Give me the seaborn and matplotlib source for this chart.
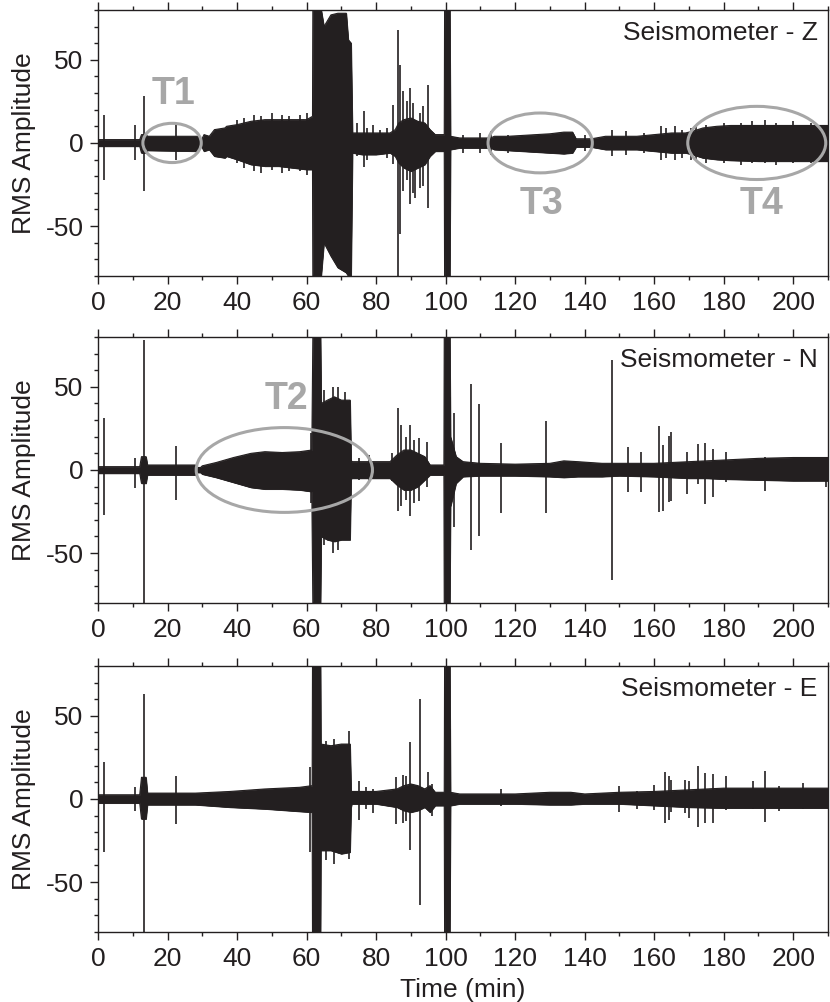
import matplotlib
matplotlib.use("Agg")
import matplotlib.pyplot as plt
from matplotlib.patches import Ellipse
from matplotlib.ticker import MultipleLocator
import seaborn as sns
import pandas as pd

# --- envelope of each trace (min) ---
t_z = [0, 12, 12.5, 13.8, 14.2, 28.5, 29.8, 30.5, 32, 33.5, 36.5, 37, 40, 44, 48, 52, 56, 60, 61.7, 61.8,
       64.2, 65, 67, 69, 71.4, 72, 72.8, 73.2, 76, 80, 84, 85.5, 86.5, 88, 90, 92, 94, 95.5, 97, 99.6, 99.7,
       101.2, 101.4, 104, 108, 113, 114, 118, 122, 126, 130, 134, 136.5, 137.5, 142, 146, 150, 155, 160, 165, 169,
       171, 174, 178, 182, 190, 198, 206, 210]
up_z = [2, 2, 5, 5, 4, 4, 2, 5, 4, 8, 9, 10, 11, 13, 14, 14, 14, 14, 16, 80,
        80, 70, 77, 78, 78, 62, 60, 6, 6, 6, 6, 8, 12, 14, 15, 13, 12, 8, 5, 5, 80,
        80, 4, 3, 3, 3, 4, 4, 4.5, 5, 5.5, 6.5, 6.5, 2.5, 2.5, 4, 4, 4, 5, 6, 6,
        7, 9, 10, 10.5, 10.5, 10.5, 10.5, 10.5]
lo_z = [-2, -2, -6, -6, -4.5, -5, -2, -5, -4, -8, -9, -8, -10, -13, -14, -14, -15, -16, -16, -80,
        -80, -60, -68, -75, -78, -80, -80, -6, -7, -7, -6, -8, -12, -15, -17, -15, -13, -8, -5, -5, -80,
        -80, -4, -3, -3, -3, -4, -4.5, -5, -5.5, -6, -6.5, -6, -2.5, -2.5, -4, -4, -4, -5, -6, -6,
        -7, -9, -10, -10.5, -11, -11, -11, -11]

t_n = [0, 12, 12.5, 13.8, 14.2, 28, 28.5, 29.5, 30, 34, 39, 44, 48, 53, 58, 61.5, 61.8, 64.0, 64.2, 66,
       68, 70, 72.5, 72.8, 73, 78, 84, 86, 88, 90, 92, 94, 95.5, 99.5, 99.6, 101.2, 101.4, 103, 105, 110,
       120, 130, 134, 138, 145, 150, 160, 170, 175, 180, 190, 200, 210]
up_n = [2, 2, 8, 8, 3, 3, 1.5, 1.5, 2.5, 4.5, 7.5, 10, 11, 10.5, 11, 12, 80, 80, 40, 42,
        44, 42, 42, 6, 5, 5, 5, 9, 12, 12, 10, 8, 3, 3, 80, 80, 20, 8, 5, 4,
        3.5, 4, 5.5, 5, 4, 4, 4, 5, 5.5, 6, 7, 7.5, 7.5]
lo_n = [-2, -2, -8, -8, -3, -3, -1.5, -1.5, -2.5, -4.5, -7.5, -10.5, -11.5, -11.5, -12, -13, -80, -80, -40, -42,
        -43, -42, -42, -5.5, -5, -5, -5, -9, -12, -12, -10, -6, -3, -3, -80, -80, -22, -8, -4, -3.5,
        -3.5, -4, -4.5, -4, -4, -3.5, -4, -5, -5, -5.5, -6, -6.5, -6.5]

t_e = [0, 12, 12.5, 13.8, 14.2, 28, 38, 48, 58, 61.6, 61.7, 64.0, 64.1, 67, 70, 72.5, 72.8, 73, 80, 86,
       88, 90, 92, 94, 95.5, 97, 99.6, 99.7, 101.2, 101.4, 104, 120, 130, 136, 140, 150, 160, 170, 180, 190,
       200, 210]
up_e = [2.5, 2.5, 13, 13, 3.5, 3.5, 4.5, 6, 7, 8, 80, 80, 33, 32, 33, 33, 5, 4.5, 4.5, 6,
        8, 9, 8, 6, 8, 4, 4, 80, 80, 4, 3, 3, 4, 4, 3, 4, 4.5, 5.5, 6.5, 6.5,
        6.5, 6.5]
lo_e = [-2.5, -2.5, -12, -12, -3.5, -3.5, -5, -6, -7.5, -8, -80, -80, -31, -31, -33, -32, -5, -3, -3, -5,
        -7, -8, -7, -5, -8, -4, -4, -80, -80, -4, -3, -3, -3.5, -3.5, -3, -3, -4, -5, -5.5, -5.5,
        -5.5, -5.5]

# --- isolated spikes: time, max, min ---
spk_t_z = [1.7, 10.5, 13.1, 22.5, 40, 42, 45, 47, 50, 53, 55, 58, 60,
           74.5, 76.4, 77.5, 79.1, 81, 83, 84.8, 86.3, 86.9, 87.7, 88.8, 89.8, 90.5, 91.1, 92.5, 93.5, 94.9,
           101.3, 105, 110, 113, 118, 140, 148, 152, 157, 162, 163.5, 166, 168, 170.5,
           172, 175, 180, 185, 188, 192, 195, 200, 205]
spk_hi_z = [17, 11, 28, 12, 14, 15, 17, 16, 18, 17, 16, 17, 18,
            12, 19, 9, 10.7, 8, 9, 23, 68, 47, 31, 25, 33, 24, 14, 18, 22, 35,
            26, 5, 6, 7, 5, 5, 8, 7, 6, 10, 9, 10, 8, 9,
            10, 11, 12, 12, 13, 14, 12, 13, 12]
spk_lo_z = [-22, -10, -29, -10, -12, -15, -17, -18, -16, -18, -17, -17, -19,
            -8, -14.5, -10, -6.5, -7, -9, -12.5, -80, -55, -29, -22, -37, -30, -33, -27, -26, -39,
            -30, -6, -6, -7, -6, -5, -8, -7, -6, -10, -9, -10, -9, -10,
            -11, -12, -12, -13, -12, -12, -13, -12, -12]

spk_t_n = [1.7, 10.5, 13.1, 22.5, 61.3, 65, 67.5, 69, 71, 75.2, 78, 84.5, 86.3, 87.2, 88.5, 89.8, 91, 92.3, 94.6,
           101.3, 102.5, 107.4, 109.6, 115.8, 129, 148, 152.4, 156.2, 161.5, 162.5, 164.2, 164.8, 169.5,
           172.5, 174.7, 176.8, 180.6, 191.9, 209.5]
spk_hi_n = [31, 7, 78, 14.5, 22, 48, 50, 50, 47, 7, 9, 10, 37, 27, 20, 27, 18, 19, 17,
            44, 34, 52, 39.5, 16.5, 29.5, 66, 13.7, 10.6, 26.7, 15, 20.7, 22.7, 10.6,
            15.7, 16, 12.7, 10.6, 8, 8]
spk_lo_n = [-27, -11, -80, -18, -20, -45, -50, -48, -42, -6, -8, -6.5, -24.5, -21.5, -18, -27.5, -20, -18.5, -10.4,
            -30, -34, -48, -40, -26, -26, -66, -13.5, -13.5, -25.5, -24.5, -19.5, -18.5, -14.5,
            -8.4, -20.5, -16.5, -7, -12.5, -10.4]

spk_t_e = [1.7, 10.5, 13.1, 22.5, 61, 65.5, 68, 72.1, 75.2, 77, 79.1, 85.7, 87.7, 88.7, 89.8, 92.5, 94.9, 96,
           101.3, 116, 150, 155, 160, 163.2, 164.2, 164.8, 169, 170.1, 172.5, 174.7, 176.8, 180.6,
           188.3, 191.9, 196, 202.7]
spk_hi_e = [22, 7, 63, 14, 19, 35, 36, 41, 10.5, 7, 6, 13, 14.5, 14, 34, 60, 16.5, 9,
            42, 6, 7.5, 5, 8.5, 16.5, 13.5, 11.5, 11.5, 10.5, 20, 15.5, 15, 13.5,
            11, 17, 8, 9.5]
spk_lo_e = [-32, -7, -80, -15, -32, -37, -39, -36, -12.7, -6, -8.7, -15, -14.7, -13, -30.8, -64, -6.7, -10,
            -55, -4, -8, -6, -6.7, -14.7, -12.7, -8, -8.7, -11.7, -16.7, -14.7, -14.7, -6.7,
            -6, -13.7, -7, -6]

labels = ["Seismometer - Z", "Seismometer - N", "Seismometer - E"]

# annotations: label, ellipse centre/width/height, text position, panel
ann_names = ["T1", "T2", "T3", "T4"]
ann_panel = [0, 1, 0, 0]
ann_cx = [21.3, 53.6, 127.2, 189.5]
ann_w = [16.8, 50.7, 30, 39.7]
ann_h = [23.6, 51, 36, 44]
ann_tx = [21.6, 54.3, 127.5, 190.8]
ann_ty = [29.4, 42.6, -37, -37]

sns.set_style("ticks")
plt.rcParams['font.family'] = ['Liberation Sans', 'DejaVu Sans']
plt.rcParams['font.size'] = 19
plt.rcParams['axes.unicode_minus'] = False

INK = '#231f20'
GREY = '#a7a7a7'

fig = plt.figure(figsize=(8.3, 10.02), dpi=100)
bottoms = [0.7246, 0.3982, 0.0699]
axes = [fig.add_axes([0.1181, b, 0.8795, 0.2655]) for b in bottoms]

traces = [(t_z, up_z, lo_z, spk_t_z, spk_hi_z, spk_lo_z),
          (t_n, up_n, lo_n, spk_t_n, spk_hi_n, spk_lo_n),
          (t_e, up_e, lo_e, spk_t_e, spk_hi_e, spk_lo_e)]

for i, ax in enumerate(axes):
    t, up, lo, st, sh, sl = traces[i]
    env = pd.DataFrame({'t': t + t, 'amp': up + lo,
                        'side': ['up'] * len(t) + ['lo'] * len(t)})
    ax.fill_between(t, lo, up, color=INK, lw=0.6)
    sns.lineplot(data=env, x='t', y='amp', units='side', estimator=None,
                 color=INK, lw=0.8, ax=ax)
    ax.vlines(st, sl, sh, color=INK, lw=1.2)

    ax.set_xlim(0, 210)
    ax.set_ylim(-80, 80)
    ax.xaxis.set_major_locator(MultipleLocator(20))
    ax.xaxis.set_minor_locator(MultipleLocator(10))
    ax.set_yticks([-50, 0, 50])
    ax.yaxis.set_minor_locator(MultipleLocator(10))
    ax.tick_params(which='both', direction='out', top=True, right=False,
                   colors=INK, width=1.0, labelsize=19)
    ax.tick_params(which='major', length=5.5, pad=5)
    ax.tick_params(which='minor', length=3)
    ax.tick_params(axis='x', which='major', length=6)
    for s in ax.spines.values():
        s.set_visible(True)
        s.set_linewidth(1.0)
        s.set_color(INK)
    ax.set_ylabel("RMS Amplitude", color=INK, fontsize=19, labelpad=7)
    ax.set_xlabel("")
    ax.text(0.986, 0.913, labels[i], transform=ax.transAxes, ha='right',
            va='center', color=INK, fontsize=19)

axes[2].set_xlabel("Time (min)", color=INK, fontsize=19, labelpad=5)

for k in range(len(ann_names)):
    ax = axes[ann_panel[k]]
    ax.add_patch(Ellipse((ann_cx[k], 0), ann_w[k], ann_h[k], fill=False,
                         ec=GREY, lw=2.2, zorder=5))
    ax.text(ann_tx[k], ann_ty[k], ann_names[k], ha='center', va='center',
            color=GREY, fontsize=27, fontweight='bold', zorder=5)

fig.savefig("out.png", dpi=100)
